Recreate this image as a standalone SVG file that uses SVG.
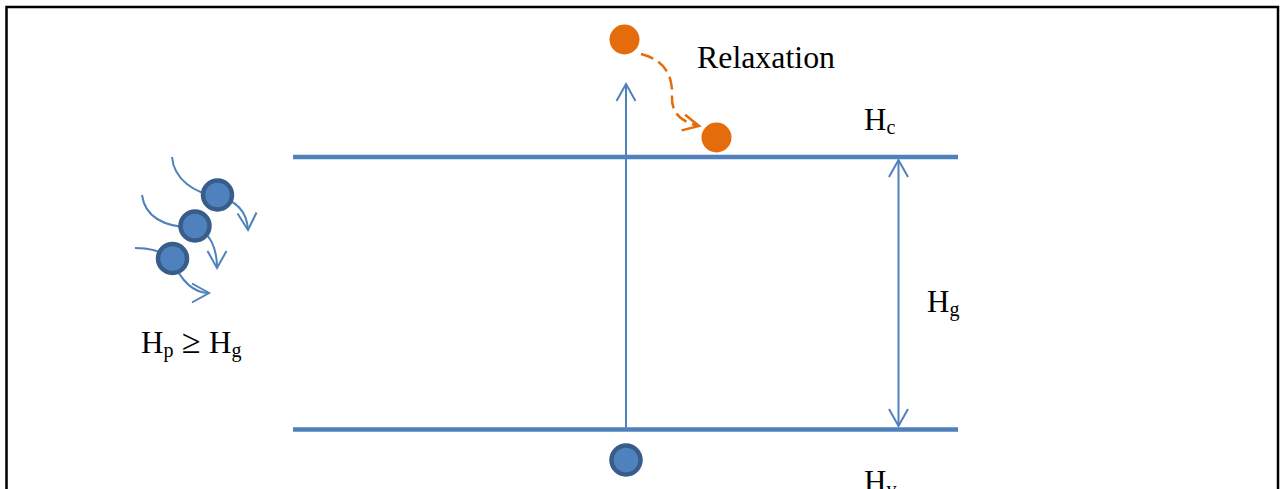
<svg xmlns="http://www.w3.org/2000/svg" width="1288" height="489" viewBox="0 0 1288 489">
  <style>
    .lvl { stroke: #4F81BD; stroke-width: 4.5; fill: none; }
    .arr { stroke: #4F81BD; stroke-width: 2; fill: none; }
    .traj { stroke: #4F81BD; stroke-width: 2; fill: none; marker-end: url(#blueHead); }
    .elec { fill: #4F81BD; stroke: #385D8A; stroke-width: 4.5; }
    .hot { fill: #E46C0A; }
    .lbl { font-family: "Liberation Serif", "Times New Roman", serif; font-size: 31px; fill: #000; }
    .sub { font-size: 20px; }
  </style>
  <defs>
    <marker id="blueHead" markerUnits="userSpaceOnUse" markerWidth="24" markerHeight="24" viewBox="-20 -12 24 24" refX="0" refY="0" orient="auto-start-reverse">
      <path d="M-17,-9.5 L0,0 L-17,9.5" fill="none" stroke="#4F81BD" stroke-width="2"/>
    </marker>
    <marker id="orangeHead" markerUnits="userSpaceOnUse" markerWidth="24" markerHeight="24" viewBox="-20 -12 24 24" refX="0" refY="0" orient="auto">
      <path d="M-16,-8 L0,0 L-16,8" fill="none" stroke="#E46C0A" stroke-width="2.5"/>
    </marker>
  </defs>

  <!-- frame -->
  <rect x="6.5" y="7" width="1271.5" height="500" fill="#fff" stroke="#000" stroke-width="2.5"/>

  <!-- energy levels -->
  <g id="conduction-level">
    <line class="lvl" x1="293" y1="157" x2="958" y2="157"/>
    <text class="lbl" x="864" y="130">H<tspan class="sub" dy="4">c</tspan></text>
  </g>
  <g id="valence-level">
    <line class="lvl" x1="293" y1="429.5" x2="958" y2="429.5"/>
    <text class="lbl" x="864" y="492">H<tspan class="sub" dy="4">v</tspan></text>
  </g>

  <g id="connectors">
    <!-- excitation -->
    <line class="arr" x1="626" y1="428" x2="626" y2="84" marker-end="url(#blueHead)"/>
    <!-- gap width -->
    <line class="arr" x1="898.5" y1="160" x2="898.5" y2="426" marker-start="url(#blueHead)" marker-end="url(#blueHead)"/>
    <!-- relaxation path -->
    <path d="M641,54 C665,60 673,76 672,96 C671,113 681,122 699,126" fill="none" stroke="#E46C0A" stroke-width="2.5" stroke-dasharray="13,6" marker-end="url(#orangeHead)"/>
    <!-- incoming photon trajectories -->
    <path class="traj" d="M172,157 C174,180 195,193 216,196 C236,200 247,212 248,230"/>
    <path class="traj" d="M142,195 C145,218 166,227 194,228 C210,231 217,248 217,268"/>
    <path class="traj" d="M135,248 C154,248 166,254 172,260 C179,276 190,293 209,293"/>
  </g>

  <g id="gap-label">
    <text class="lbl" x="927" y="312">H<tspan class="sub" dy="4">g</tspan></text>
  </g>

  <g id="relaxation-label">
    <text class="lbl" x="697" y="68" textLength="138" lengthAdjust="spacingAndGlyphs">Relaxation</text>
  </g>

  <g id="excited-electron">
    <circle class="hot" cx="624.5" cy="39.5" r="15"/>
  </g>
  <g id="relaxed-electron">
    <circle class="hot" cx="716.5" cy="137.5" r="15"/>
  </g>
  <g id="ground-electron">
    <circle class="elec" cx="626" cy="460" r="14.5"/>
  </g>

  <g id="photons">
    <circle class="elec" cx="217.5" cy="195" r="14.5"/>
    <circle class="elec" cx="195" cy="226" r="14.5"/>
    <circle class="elec" cx="172.5" cy="258.5" r="14.5"/>
  </g>
  <g id="photon-label">
    <text class="lbl" x="141" y="353">H<tspan class="sub" dy="4">p</tspan><tspan dy="-4" font-size="34"> ≥ </tspan><tspan>H</tspan><tspan class="sub" dy="4">g</tspan></text>
  </g>
</svg>
